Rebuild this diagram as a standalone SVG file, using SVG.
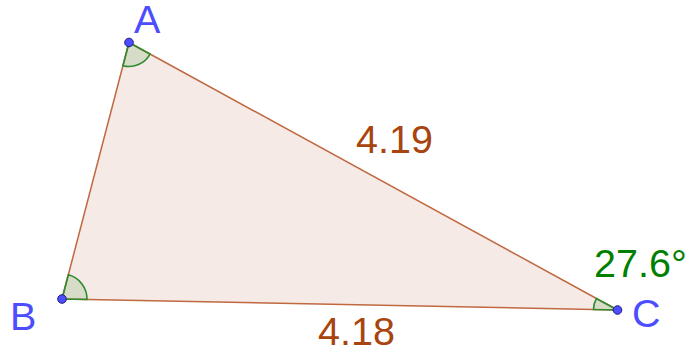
<svg xmlns="http://www.w3.org/2000/svg" width="688" height="354" viewBox="0 0 688 354">
<style>
.lbl{font-family:"Liberation Sans",Arial,sans-serif;font-size:39.5px}
.pt{fill:#4d4dff}
.seg{fill:#a8450f}
.ang{fill:#007f00}
.angle{fill:#007f00;fill-opacity:0.12;stroke:#2e8b2e;stroke-width:1.6}
.edge{stroke:#c06840;stroke-width:1.5;fill:none}
.dot{fill:#4d4dff;stroke:#1a1a80;stroke-width:1}
</style>
<rect width="688" height="354" fill="#ffffff"/>
<g id="triangle">
<polygon points="129,42.5 62,299 617.5,310" fill="#993300" fill-opacity="0.1" stroke="none"/>
</g>
<g id="connectors">
<line class="edge" x1="129" y1="42.5" x2="62" y2="299"/>
<line class="edge" x1="62" y1="299" x2="617.5" y2="310"/>
<line class="edge" x1="617.5" y1="310" x2="129" y2="42.5"/>
</g>
<g id="angles">
<path class="angle" d="M129,42.5 L122.93,65.72 A24,24 0 0 0 150.05,54.03 Z"/>
<path class="angle" d="M62,299 L68.32,274.81 A25,25 0 0 1 87,299.5 Z"/>
<path class="angle" d="M617.5,310 L593.5,309.5 A24,24 0 0 1 596.45,298.47 Z"/>
</g>
<g id="labels">
<text class="lbl seg" x="356" y="153">4.19</text>
<text class="lbl seg" x="318" y="345">4.18</text>
<text class="lbl ang" x="594" y="277">27.6°</text>
</g>
<g id="A"><circle class="dot" cx="129" cy="42.5" r="4.3"/><text class="lbl pt" x="134" y="33">A</text></g>
<g id="B"><circle class="dot" cx="62" cy="299" r="4.3"/><text class="lbl pt" x="10" y="330">B</text></g>
<g id="C"><circle class="dot" cx="617.5" cy="310" r="4.3"/><text class="lbl pt" x="632" y="327">C</text></g>
</svg>
